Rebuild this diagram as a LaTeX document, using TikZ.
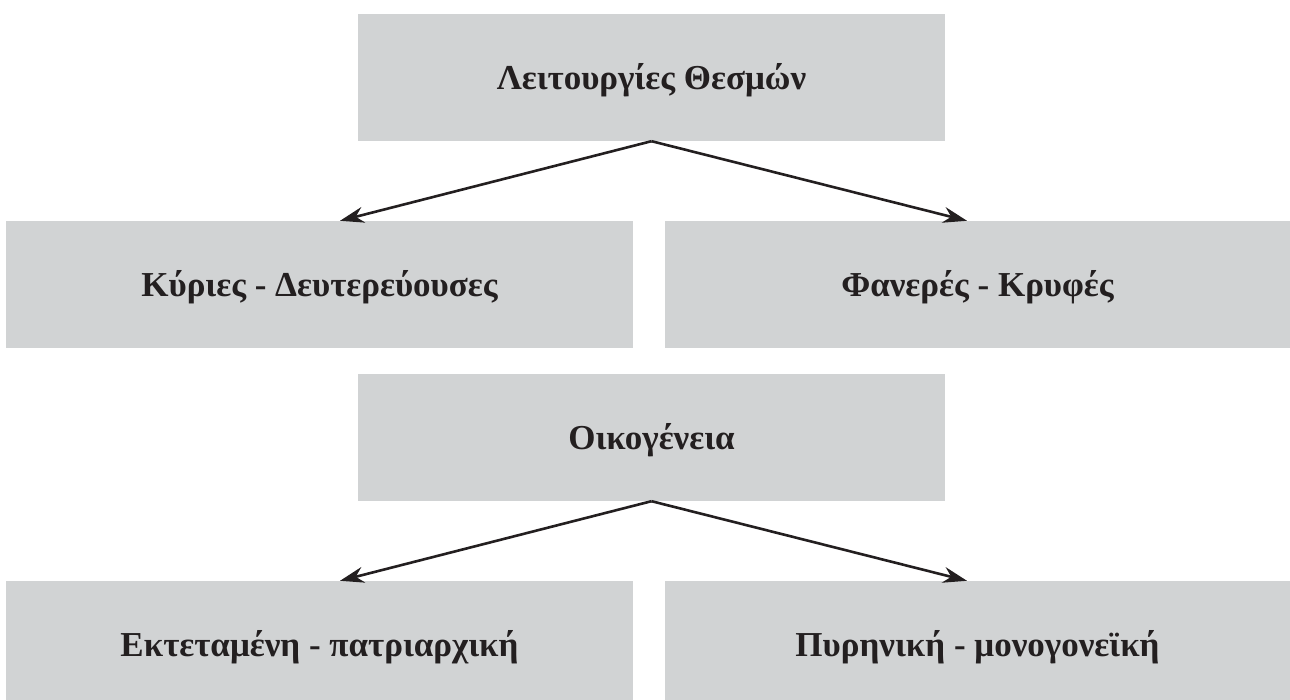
\documentclass[tikz,border=0pt]{standalone}
\usepackage{fontspec}
\setmainfont{Liberation Serif}
\usetikzlibrary{arrows.meta}
\definecolor{boxgray}{HTML}{D1D3D4}
\definecolor{ink}{HTML}{231F20}
\tikzset{
  box/.style={fill=boxgray, draw=none, inner sep=0pt, text height=24pt, text depth=0pt,
    minimum height=127pt, text=ink,
    font=\fontsize{35}{40}\selectfont\bfseries},
  link/.style={draw=ink, line width=2.6pt, -{Stealth[length=24pt,width=16pt]}}
}
\begin{document}
\begin{tikzpicture}[x=1pt,y=-1pt]
\useasboundingbox (0,0) rectangle (1290,700);
\node[box, minimum width=587pt] (top) at (651.5,77.5) {Λειτουργίες Θεσμών};
\node[box, minimum width=627pt] (lb) at (319.5,284.5) {Κύριες - Δευτερεύουσες};
\node[box, minimum width=625pt] (rb) at (977.5,284.5) {Φανερές - Κρυφές};
\node[box, minimum width=587pt] (fam) at (651.5,437.5) {Οικογένεια};
\node[box, minimum width=627pt, minimum height=119pt, text height=32pt] (llb) at (319.5,640.5) {Εκτεταμένη - πατριαρχική};
\node[box, minimum width=625pt, minimum height=119pt, text height=32pt] (lrb) at (977.5,640.5) {Πυρηνική - μονογονεϊκή};
\draw[link] (top.south) -- ([xshift=20.5pt]lb.north);
\draw[link] (top.south) -- ([xshift=-10.5pt]rb.north);
\draw[link] (fam.south) -- ([xshift=20.5pt]llb.north);
\draw[link] (fam.south) -- ([xshift=-10.5pt]lrb.north);
\end{tikzpicture}
\end{document}
